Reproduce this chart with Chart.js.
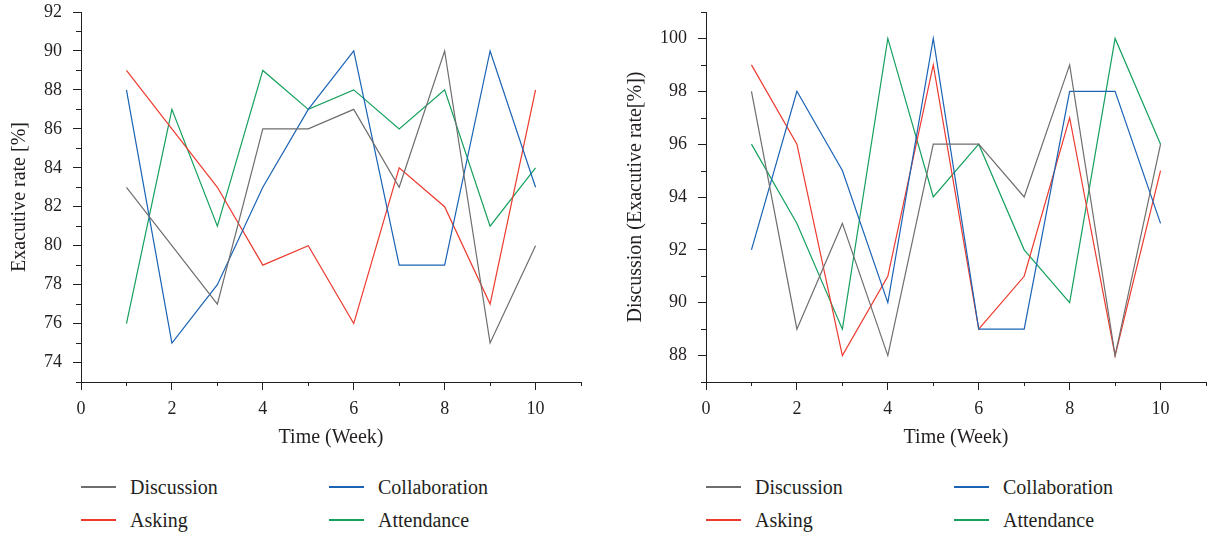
<!DOCTYPE html>
<html>
<head>
<meta charset="utf-8">
<script src="https://cdn.jsdelivr.net/npm/chart.js@4/dist/chart.umd.min.js"></script>
<style>
    body { margin: 0; background: #fff; width: 1208px; height: 538px; position: relative; overflow: hidden; }
    .panel { position: absolute; top: 0; width: 604px; height: 460px; }
    .legend { position: absolute; font-family: 'Liberation Serif', 'DejaVu Serif', serif; font-size: 20px; color: #231f20; }
    .item { position: absolute; white-space: nowrap; line-height: 24px; }
    .item .line { position: absolute; top: 11px; width: 35px; height: 0; border-top-width: 2px; border-top-style: solid; }
    .item .label { position: absolute; }
</style>
</head>
<body>
<div class="panel" style="left:0"><canvas id="rateChart" width="604" height="460"></canvas></div>
<div class="panel" style="left:604px"><canvas id="discussionChart" width="604" height="460"></canvas></div>
<div class="legend" id="legend1"></div>
<div class="legend" id="legend2"></div>
<script>
const weeks = [1, 2, 3, 4, 5, 6, 7, 8, 9, 10];
const seriesNames = ['Discussion', 'Collaboration', 'Asking', 'Attendance'];
const seriesColors = ['#6e6e6e', '#1a63b5', '#ec3a2e', '#15a05e'];

// left panel: exacutive rate per activity
const rateDiscussion = [83, 80, 77, 86, 86, 87, 83, 90, 75, 80];
const rateCollaboration = [88, 75, 78, 83, 87, 90, 79, 79, 90, 83];
const rateAsking = [89, 86, 83, 79, 80, 76, 84, 82, 77, 88];
const rateAttendance = [76, 87, 81, 89, 87, 88, 86, 88, 81, 84];

// right panel: discussion (exacutive rate)
const discDiscussion = [98, 89, 93, 88, 96, 96, 94, 99, 88, 96];
const discCollaboration = [92, 98, 95, 90, 100, 89, 89, 98, 98, 93];
const discAsking = [99, 96, 88, 91, 99, 89, 91, 97, 88, 95];
const discAttendance = [96, 93, 89, 100, 94, 96, 92, 90, 100, 96];

const xTicks = [0, 2, 4, 6, 8, 10];
const rateTicks = [74, 76, 78, 80, 82, 84, 86, 88, 90, 92];
const discTicks = [88, 90, 92, 94, 96, 98, 100];

const ink = '#231f20';
const serif = "'Liberation Serif', 'DejaVu Serif', serif";

// short ticks on the odd values between the labelled ones
const minorTicks = {
    id: 'minorTicks',
    afterDraw(chart) {
        const ctx = chart.ctx;
        const xs = chart.scales.x, ys = chart.scales.y;
        ctx.save();
        ctx.strokeStyle = ink;
        ctx.lineWidth = 1;
        ctx.beginPath();
        for (let v = Math.ceil(xs.min); v <= xs.max; v++) {
            if (v % 2 === 0) continue;
            const px = Math.round(xs.getPixelForValue(v)) + 0.5;
            ctx.moveTo(px, xs.top);
            ctx.lineTo(px, xs.top + 4);
        }
        for (let v = Math.ceil(ys.min); v <= ys.max; v++) {
            if (v % 2 === 0) continue;
            const py = Math.round(ys.getPixelForValue(v)) + 0.5;
            ctx.moveTo(ys.right, py);
            ctx.lineTo(ys.right - 5, py);
        }
        ctx.stroke();
        ctx.restore();
    }
};

function createChart(canvasId, values, yMin, yMax, yTicks, yTitle, opts) {
    const ctx = document.getElementById(canvasId).getContext('2d');
    return new Chart(ctx, {
        type: 'line',
        data: {
            datasets: values.map((vals, i) => ({
                label: seriesNames[i],
                data: weeks.map((w, j) => ({ x: w, y: vals[j] })),
                borderColor: seriesColors[i],
                borderWidth: 1.2,
                pointRadius: 0,
                tension: 0,
                fill: false
            }))
        },
        options: {
            responsive: false,
            animation: false,
            layout: { padding: { top: 12, right: opts.padRight, left: 0, bottom: 0 } },
            plugins: { legend: { display: false }, tooltip: { enabled: false } },
            scales: {
                x: {
                    type: 'linear',
                    min: 0,
                    max: 11,
                    afterBuildTicks: scale => { scale.ticks = xTicks.map(v => ({ value: v })); },
                    afterFit: scale => { scale.height = 78; },
                    grid: { drawOnChartArea: false, tickLength: 8, color: ink },
                    border: { color: ink, width: 1 },
                    ticks: { color: ink, font: { family: serif, size: 18 }, padding: 8, maxRotation: 0 },
                    title: { display: true, text: 'Time (Week)', color: ink, font: { family: serif, size: 20 }, padding: { top: 0, bottom: 10 } }
                },
                y: {
                    min: yMin,
                    max: yMax,
                    afterBuildTicks: scale => { scale.ticks = yTicks.map(v => ({ value: v })); },
                    afterFit: scale => {
                        scale.width = opts.axisX;
                        // the top label may hang above the axis
                        scale.paddingTop = 0;
                        scale.paddingBottom = 0;
                    },
                    grid: { drawOnChartArea: false, tickLength: 8, color: ink },
                    border: { color: ink, width: 1 },
                    ticks: { color: ink, font: { family: serif, size: 18 }, padding: 11 },
                    title: { display: true, text: yTitle, color: ink, font: { family: serif, size: 20 }, padding: { top: opts.titlePad, bottom: 0 } }
                }
            }
        },
        plugins: [minorTicks]
    });
}

function buildLegend(id, left) {
    const box = document.getElementById(id);
    box.style.left = left + 'px';
    box.style.top = '475px';
    const cols = [0, 248];
    const rows = [0, 33];
    // Discussion / Collaboration on the first row, Asking / Attendance below
    const order = [[0, 0, 0], [1, 1, 0], [2, 0, 1], [3, 1, 1]];
    order.forEach(([s, c, r]) => {
        const item = document.createElement('div');
        item.className = 'item';
        item.style.left = cols[c] + 'px';
        item.style.top = rows[r] + 'px';
        const line = document.createElement('div');
        line.className = 'line';
        line.style.borderTopColor = seriesColors[s];
        const label = document.createElement('div');
        label.className = 'label';
        label.style.left = '49px';
        label.textContent = seriesNames[s];
        item.appendChild(line);
        item.appendChild(label);
        box.appendChild(item);
    });
}

document.addEventListener("DOMContentLoaded", function () {
    createChart('rateChart', [rateDiscussion, rateCollaboration, rateAsking, rateAttendance],
        73, 92, rateTicks, 'Exacutive rate [%]', { padRight: 23, axisX: 81, titlePad: 8 });
    createChart('discussionChart', [discDiscussion, discCollaboration, discAsking, discAttendance],
        87, 101, discTicks, 'Discussion (Exacutive rate[%])', { padRight: 2, axisX: 102, titlePad: 20 });
    buildLegend('legend1', 81);
    buildLegend('legend2', 706);
});
</script>
</body>
</html>
